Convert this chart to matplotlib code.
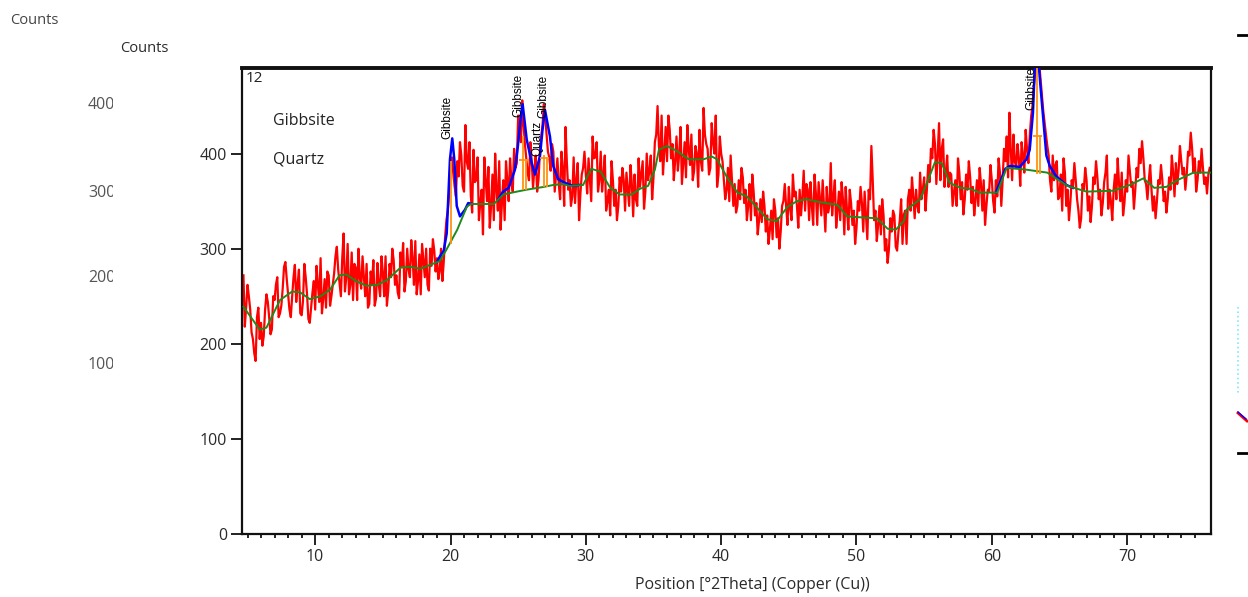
import matplotlib
matplotlib.use('Agg')
import matplotlib.pyplot as plt
from matplotlib.lines import Line2D
import numpy as np

# step scan: first position, step size [deg 2Theta] and measured counts
scan_start = 4.7
scan_step = 0.1
counts = [
    272, 218, 238,
    262, 250, 236, 212, 205, 190, 182, 228, 238, 205,
    222, 198, 208, 236, 252, 244, 228, 210, 215, 250,
    246, 262, 270, 228, 232, 240, 258, 281, 286, 268,
    252, 236, 228, 250, 270, 283, 244, 262, 278, 232,
    230, 245, 284, 270, 252, 226, 222, 238, 254, 266,
    236, 282, 262, 244, 290, 232, 248, 268, 238, 276,
    272, 240, 250, 262, 274, 292, 302, 278, 264, 250,
    290, 316, 255, 270, 305, 252, 262, 296, 246, 284,
    280, 246, 300, 270, 258, 292, 270, 250, 284, 238,
    242, 276, 262, 288, 240, 248, 285, 262, 250, 292,
    275, 250, 292, 240, 256, 284, 270, 300, 288, 262,
    272, 254, 248, 296, 282, 306, 255, 266, 300, 278,
    270, 309, 290, 262, 308, 252, 266, 294, 252, 305,
    288, 270, 300, 262, 256, 300, 282, 310, 298, 276,
    290, 268, 276, 300, 266, 286, 312, 330, 340, 358,
    388, 396, 380, 366, 355, 392, 376, 412, 398, 366,
    360, 430, 392, 384, 412, 356, 338, 404, 370, 372,
    396, 330, 348, 362, 315, 396, 372, 350, 386, 322,
    345, 378, 330, 400, 362, 340, 392, 320, 348, 372,
    330, 392, 372, 350, 395, 372, 360, 405, 385, 390,
    440, 425, 412, 456, 430, 410, 395, 380, 372, 412,
    392, 364, 385, 398, 360, 372, 400, 418, 430, 452,
    438, 420, 402, 396, 382, 410, 402, 360, 378, 395,
    368, 352, 402, 384, 345, 428, 390, 362, 372, 345,
    355, 396, 348, 372, 390, 330, 358, 378, 385, 402,
    378, 358, 395, 372, 350, 418, 395, 396, 412, 360,
    372, 402, 360, 378, 398, 340, 350, 362, 335, 392,
    372, 345, 362, 330, 345, 375, 360, 385, 372, 340,
    380, 362, 345, 388, 368, 334, 378, 352, 345, 395,
    365, 378, 392, 342, 360, 400, 372, 382, 398, 352,
    375, 412, 420, 450, 408, 392, 440, 378, 402, 428,
    392, 440, 425, 395, 410, 372, 392, 418, 382, 400,
    428, 368, 390, 412, 375, 430, 405, 388, 420, 372,
    382, 408, 400, 365, 425, 392, 382, 448, 420, 410,
    405, 378, 385, 432, 412, 400, 440, 365, 378, 418,
    400, 392, 372, 352, 362, 385, 350, 398, 372, 345,
    368, 338, 345, 372, 352, 385, 375, 348, 362, 330,
    345, 368, 330, 378, 360, 335, 348, 315, 330, 352,
    328, 360, 345, 318, 335, 305, 320, 340, 310, 352,
    340, 312, 332, 300, 318, 345, 350, 368, 345, 325,
    365, 342, 330, 378, 355, 360, 345, 322, 362, 335,
    355, 382, 340, 368, 362, 330, 370, 345, 325, 378,
    358, 325, 370, 352, 335, 372, 345, 318, 365, 338,
    345, 390, 335, 355, 372, 322, 340, 360, 330, 370,
    352, 315, 365, 340, 320, 362, 348, 325, 340, 305,
    322, 350, 340, 365, 348, 318, 360, 335, 310, 362,
    352, 408, 372, 330, 340, 308, 325, 345, 315, 352,
    335, 298, 310, 285, 300, 332, 318, 340, 335, 302,
    298, 318, 330, 352, 305, 336, 340, 305, 352, 362,
    340, 375, 355, 332, 362, 345, 338, 380, 352, 362,
    375, 340, 362, 388, 370, 405, 395, 425, 410, 368,
    400, 432, 372, 405, 415, 365, 380, 398, 365, 380,
    378, 345, 358, 372, 345, 395, 380, 352, 370, 336,
    352, 378, 362, 392, 375, 348, 365, 335, 352, 372,
    345, 385, 368, 340, 372, 325, 345, 362, 360, 388,
    372, 350, 338, 372, 355, 395, 380, 345, 372, 405,
    392, 418, 375, 443, 405, 372, 420, 392, 385, 410,
    395, 366, 412, 398, 380, 425, 405, 390, 418, 438,
    450, 470, 485, 498, 500, 495, 478, 462, 445, 432,
    420, 408, 398, 372, 360, 398, 372, 388, 392, 352,
    355, 378, 340, 395, 380, 345, 362, 330, 348, 372,
    365, 390, 372, 352, 340, 322, 332, 368, 362, 385,
    372, 340, 355, 328, 345, 375, 368, 392, 375, 352,
    362, 335, 348, 370, 380, 398, 342, 362, 350, 330,
    362, 378, 352, 395, 368, 350, 380, 335, 348, 372,
    360, 398, 382, 365, 370, 342, 362, 385, 375, 405,
    390, 413, 395, 372, 368, 352, 372, 388, 362, 340,
    355, 332, 350, 372, 368, 388, 372, 350, 360, 338,
    352, 375, 362, 398, 380, 355, 390, 368, 382, 408,
    392, 378, 385, 362, 378, 402, 398, 422, 405, 380,
    395, 360, 372, 392, 380, 405, 385, 368, 375, 358,
    378, 385,
]

# fitted background (green)
background_pos = [
    4.7, 5.9, 6.4, 7.4, 8.3, 8.9, 9.6, 10.4, 11.1, 11.8, 12.3, 13.0, 13.8,
    14.6, 15.3, 16.3, 17.0, 17.8, 18.5, 19.2, 19.7, 20.5, 21.2, 21.5, 23.2,
    23.9, 24.9, 25.6, 26.9, 27.6, 28.3, 28.8, 29.8, 30.4, 31.1, 31.8, 32.5,
    33.4, 34.0, 34.6, 35.1, 35.4, 36.0, 36.7, 37.6, 38.7, 39.3, 39.7, 40.4,
    41.2, 41.9, 42.6, 43.4, 44.1, 44.9, 45.6, 46.3, 47.3, 48.6, 49.3, 50.3,
    51.5, 52.3, 52.9, 53.5, 53.7, 54.7, 55.2, 55.8, 56.3, 56.9, 57.7, 58.4,
    59.1, 60.4, 61.1, 62.6, 64.1, 65.6, 67.0, 69.0, 70.2, 71.2, 72.0, 72.9,
    73.7, 74.9, 76.2,
]
background_counts = [
    239, 215, 217, 246, 255, 254, 247, 250, 257, 272, 273, 266, 261,
    262, 267, 280, 281, 279, 283, 287, 299, 320, 344, 347, 347,
    357, 360, 362, 365, 367, 368, 366, 367, 384, 381, 364, 357,
    357, 363, 366, 383, 404, 408, 403, 394, 394, 397, 394, 376,
    359, 355, 344, 331, 329, 344, 350, 352, 349, 346, 334, 333,
    332, 321, 320, 329, 341, 352, 369, 391, 390, 369, 364, 363,
    359, 359, 385, 383, 380, 366, 360, 361, 367, 374, 364, 365,
    372, 380, 380,
]

# calculated profile (blue) where it leaves the background
profile_pos_1 = [19.0, 19.22, 19.5, 19.72, 19.96, 20.13, 20.28, 20.46, 20.7,
                 21.07, 21.31, 21.6]
profile_cnt_1 = [286, 292, 298, 316, 394, 416, 394, 345, 334, 341, 348, 347]
profile_pos_2 = [23.5, 23.88, 24.3, 24.76, 24.98, 25.2, 25.33, 25.63, 26.0,
                 26.24, 26.61, 26.8, 26.98, 27.35, 27.59, 27.96, 28.5, 29.07,
                 29.5]
profile_cnt_2 = [351, 360, 364, 383, 408, 440, 452, 415, 390, 378, 397, 425,
                 446, 418, 387, 373, 369, 366, 367]
profile_pos_3 = [60.3, 61.0, 61.32, 62.06, 62.56, 62.8, 63.04, 63.2, 63.4,
                 63.6, 63.78, 64.03, 64.28, 64.77, 65.51, 66.0]
profile_cnt_3 = [359, 384, 387, 386, 394, 404, 443, 500, 505, 470, 440, 398,
                 387, 376, 367, 364]

# peak sticks (orange): position, base, top, K-alpha2 level
stick_pos = [20.05, 25.38, 26.9, 63.34]
stick_base = [305, 362, 365, 379]
stick_top = [392, 418, 399, 500]
stick_mid = [None, 393, 395, 418]

# phase identification labels
label_names = ['Gibbsite', 'Gibbsite', 'Quartz', 'Gibbsite', 'Gibbsite']
label_pos = [19.75, 25.05, 26.45, 26.85, 62.95]
label_base = [415, 439, 397, 437, 446]

phases = ['Gibbsite', 'Quartz']
ghost_ticks = ['400', '300', '200', '100']


def px(x, y):
    # figure fraction from pixel position of the 1248x597 canvas
    return x / 1248, 1 - y / 597


def draw_ghost_panel(fig):
    # clipped leftovers of a second chart behind this one
    ghost = fig.add_axes([0, 0, 113 / 1248, 1])
    ghost.axis('off')
    ghost.set_xlim(0, 113)
    ghost.set_ylim(597, 0)
    ghost.text(10, 20, 'Counts', fontsize=10.5, color='#444444',
               va='center', ha='left')
    for lab, y in zip(ghost_ticks, [105, 193, 278, 365]):
        ghost.text(88, y, lab, fontsize=11.5, color='#555555',
                   va='center', ha='left', clip_on=True)

    fig.add_artist(Line2D(*zip(px(1238, 35), px(1248, 35)),
                          color='black', lw=2, transform=fig.transFigure))
    fig.add_artist(Line2D(*zip(px(1238, 453), px(1248, 453)),
                          color='black', lw=2, transform=fig.transFigure))
    fig.add_artist(Line2D(*zip(px(1238, 307), px(1238, 395)),
                          color='#7fe6ff', lw=1.2, ls=':',
                          transform=fig.transFigure))
    fig.add_artist(Line2D(*zip(px(1238, 413), px(1247, 421)),
                          color='red', lw=2, transform=fig.transFigure))
    fig.add_artist(Line2D(*zip(px(1238, 412), px(1246, 419)),
                          color='blue', lw=1, transform=fig.transFigure))


def main():
    plt.rcParams['font.family'] = ['Open Sans', 'DejaVu Sans']

    fig = plt.figure(figsize=(12.48, 5.97), dpi=100)
    ax = fig.add_axes([0.1942, 0.1055, 0.7762, 0.7806])

    pos = scan_start + scan_step * np.arange(len(counts))
    ax.plot(pos, counts, color='#ff0000', lw=1.6, zorder=2)

    for p, c in [(profile_pos_1, profile_cnt_1), (profile_pos_2, profile_cnt_2),
                 (profile_pos_3, profile_cnt_3)]:
        ax.plot(p, c, color='#0000ff', lw=1.8, zorder=3)

    ax.plot(background_pos, background_counts, color='#1e8a1e', lw=1.4,
            zorder=4)

    orange = '#ff9410'
    ax.vlines(stick_pos, stick_base, stick_top, color=orange, lw=1.3,
              zorder=5)
    for p, b, m in zip(stick_pos, stick_base, stick_mid):
        if m is None:
            continue
        ax.vlines(p + 0.2, b, m, color=orange, lw=1.3, zorder=5)
        ax.hlines(m, p - 0.3, p + 0.4, color=orange, lw=1.3, zorder=5)

    for name, p, b in zip(label_names, label_pos, label_base):
        ax.text(p, b, name, rotation=90, ha='center', va='bottom',
                fontsize=8.5, family=['Liberation Sans', 'DejaVu Sans'],
                color='black', clip_on=True, zorder=6)

    for i, name in enumerate(phases):
        ax.text(6.9, 434 - 40 * i, name, fontsize=11.5, color='#222222',
                ha='left', va='center')
    ax.text(0.003, 0.993, '12', transform=ax.transAxes, fontsize=11,
            color='#222222', ha='left', va='top')

    ax.set_xlim(4.62, 76.2)
    ax.set_ylim(0, 490)
    ax.set_xticks(range(10, 71, 10))
    ax.set_xticks(np.arange(5, 76), minor=True)
    ax.set_yticks(range(0, 401, 100))
    ax.tick_params(axis='both', which='major', direction='out', length=8,
                   width=1.3, labelsize=11.5, pad=3, colors='#111111',
                   labelcolor='#2a2a2a')
    ax.tick_params(axis='x', which='minor', direction='out', length=3,
                   width=1.2)
    for side in ['left', 'bottom', 'right']:
        ax.spines[side].set_linewidth(1.6)
        ax.spines[side].set_color('#111111')
    ax.spines['top'].set_linewidth(2.8)
    ax.spines['top'].set_color('#111111')

    ax.text(0.527, -0.109, 'Position [°2Theta] (Copper (Cu))',
            transform=ax.transAxes, ha='center', va='center', fontsize=11.5,
            color='#2a2a2a')
    fig.text(*px(120, 48), 'Counts', fontsize=10.5, color='#2a2a2a',
             ha='left', va='center')

    draw_ghost_panel(fig)

    fig.savefig('out.png', dpi=100)


if __name__ == '__main__':
    main()
